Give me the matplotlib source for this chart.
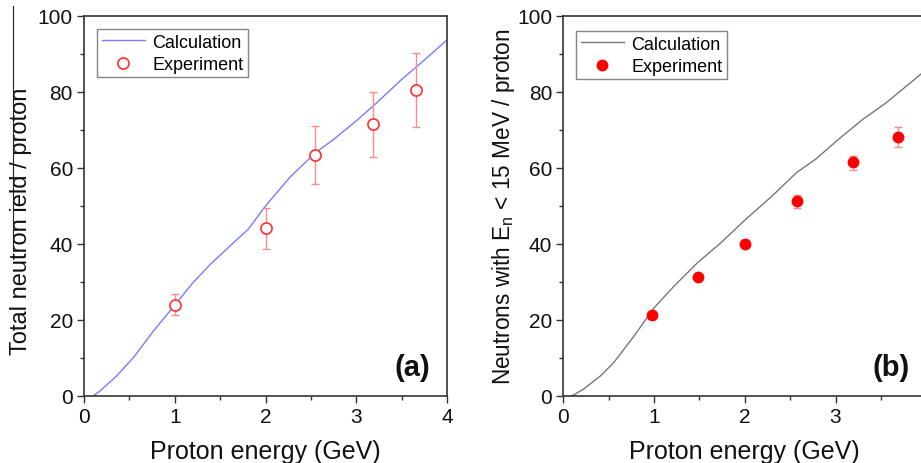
import matplotlib
matplotlib.use("Agg")
import matplotlib.pyplot as plt
from matplotlib.ticker import MultipleLocator
from matplotlib.lines import Line2D

plt.rcParams['font.family'] = ['Liberation Sans', 'DejaVu Sans']
plt.rcParams['mathtext.fontset'] = 'custom'
plt.rcParams['mathtext.rm'] = 'Liberation Sans'
plt.rcParams['mathtext.it'] = 'Liberation Sans'

# Panel (a): total neutron yield
calc_a_x = [0.10, 0.176, 0.36, 0.544, 0.765, 1.0, 1.2, 1.39, 1.65, 1.81, 2.0, 2.27, 2.55,
            2.75, 3.0, 3.2, 3.5, 3.74, 4.0]
calc_a_y = [0.0, 1.3, 5.3, 10.1, 17.1, 23.9, 29.8, 34.6, 40.4, 43.9, 50.0, 57.6, 64.0,
            67.5, 72.4, 76.6, 83.3, 88.2, 93.7]
exp_a_x = [1.0, 2.0, 2.55, 3.18, 3.655]
exp_a_y = [23.9, 44.2, 63.5, 71.5, 80.5]
exp_a_lo = [21.2, 38.8, 55.9, 63.0, 70.9]
exp_a_hi = [26.9, 49.6, 71.1, 80.1, 90.2]

# Panel (b): neutrons with En < 15 MeV
calc_b_x = [0.093, 0.22, 0.41, 0.556, 0.78, 1.0, 1.22, 1.48, 1.74, 2.01, 2.3, 2.57, 2.78,
            3.03, 3.3, 3.56, 3.97, 4.0]
calc_b_y = [0.0, 1.75, 5.3, 8.8, 15.8, 23.2, 28.9, 35.1, 40.4, 46.5, 52.6, 58.8, 62.3,
            67.5, 72.8, 77.2, 85.3, 85.8]
exp_b_x = [0.974, 1.48, 2.0, 2.57, 3.196, 3.685]
exp_b_y = [21.2, 31.3, 40.1, 51.2, 61.5, 68.1]
exp_b_lo = [20.4, 30.6, 39.2, 49.6, 59.6, 65.4]
exp_b_hi = [22.0, 32.0, 41.0, 52.8, 63.2, 70.7]

W, H = 921, 464
fig = plt.figure(figsize=(W / 100, H / 100), dpi=100)
ax1 = fig.add_axes([84 / W, (H - 397) / H, 363 / W, 380 / H])
ax2 = fig.add_axes([563.3 / W, (H - 397) / H, 363 / W, 380 / H])

spine_c = '#333333'
for ax in (ax1, ax2):
    ax.set_xlim(0, 4)
    ax.set_ylim(0, 100)
    ax.xaxis.set_major_locator(MultipleLocator(1))
    ax.xaxis.set_minor_locator(MultipleLocator(0.5))
    ax.yaxis.set_major_locator(MultipleLocator(20))
    ax.yaxis.set_minor_locator(MultipleLocator(10))
    ax.tick_params(which='major', direction='out', length=5, width=1, labelsize=15,
                   colors=spine_c, labelcolor='#111111', pad=3)
    ax.tick_params(which='minor', direction='out', length=3, width=1, colors=spine_c)
    for s in ax.spines.values():
        s.set_color(spine_c)
        s.set_linewidth(1.2)
    ax.set_xlabel('Proton energy (GeV)', fontsize=18, color='#111111', labelpad=9)

leg_kw = dict(loc='upper left', fontsize=13, frameon=True, fancybox=False, edgecolor='#666666',
              borderpad=0.25, handlelength=2.4, handletextpad=0.4, labelspacing=0.3,
              borderaxespad=0)

# Panel (a)
ax1.plot(calc_a_x, calc_a_y, color='#7b7bff', lw=1.0)
err_a = [[y - l for y, l in zip(exp_a_y, exp_a_lo)], [h - y for y, h in zip(exp_a_y, exp_a_hi)]]
ax1.errorbar(exp_a_x, exp_a_y, yerr=err_a, fmt='none', ecolor='#ff8a8a', elinewidth=1.0,
             capsize=3, capthick=1.0)
ax1.plot(exp_a_x, exp_a_y, 'o', mfc='white', mec='#ff3030', mew=1.2, ms=8, ls='none')
h1 = [Line2D([], [], color='#7b7bff', lw=1.0),
      Line2D([], [], marker='o', mfc='white', mec='#ff3030', mew=1.2, ms=8, ls='none')]
leg1 = ax1.legend(h1, ['Calculation', 'Experiment'], bbox_to_anchor=(13 / 363, 1 - 13 / 380),
                  **leg_kw)
leg1.get_frame().set_linewidth(1.0)
ax1.set_ylabel('Total neutron ield / proton', fontsize=17, color='#111111')
ax1.yaxis.set_label_coords(-0.143, 0.463)
ax1.text(0.955, 0.04, '(a)', transform=ax1.transAxes, ha='right', va='bottom',
         fontsize=21, fontweight='bold', color='#111111')

# Panel (b)
ax2.plot(calc_b_x, calc_b_y, color='#777777', lw=1.0)
err_b = [[y - l for y, l in zip(exp_b_y, exp_b_lo)], [h - y for y, h in zip(exp_b_y, exp_b_hi)]]
ax2.errorbar(exp_b_x, exp_b_y, yerr=err_b, fmt='none', ecolor='#ff8a8a', elinewidth=1.0,
             capsize=3, capthick=1.0)
ax2.plot(exp_b_x, exp_b_y, 'o', color='#ff0000', ms=7.5, ls='none')
h2 = [Line2D([], [], color='#777777', lw=1.0),
      Line2D([], [], marker='o', color='#ff0000', ms=7.5, ls='none')]
leg2 = ax2.legend(h2, ['Calculation', 'Experiment'], bbox_to_anchor=(13 / 363, 1 - 15 / 380),
                  **leg_kw)
leg2.get_frame().set_linewidth(1.0)
ax2.set_ylabel('Neutrons with E$_\\mathregular{n}$ < 15 MeV / proton', fontsize=16.3,
               color='#111111')
ax2.yaxis.set_label_coords(-0.127, 0.5)
ax2.text(0.955, 0.04, '(b)', transform=ax2.transAxes, ha='right', va='bottom',
         fontsize=21, fontweight='bold', color='#111111')

# thin artifact line next to the left y label
fig.add_artist(Line2D([13 / W, 13 / W], [1 - 7 / H, 1 - 250 / H], color='#222222', lw=0.8))

fig.savefig('out.png', dpi=100)
